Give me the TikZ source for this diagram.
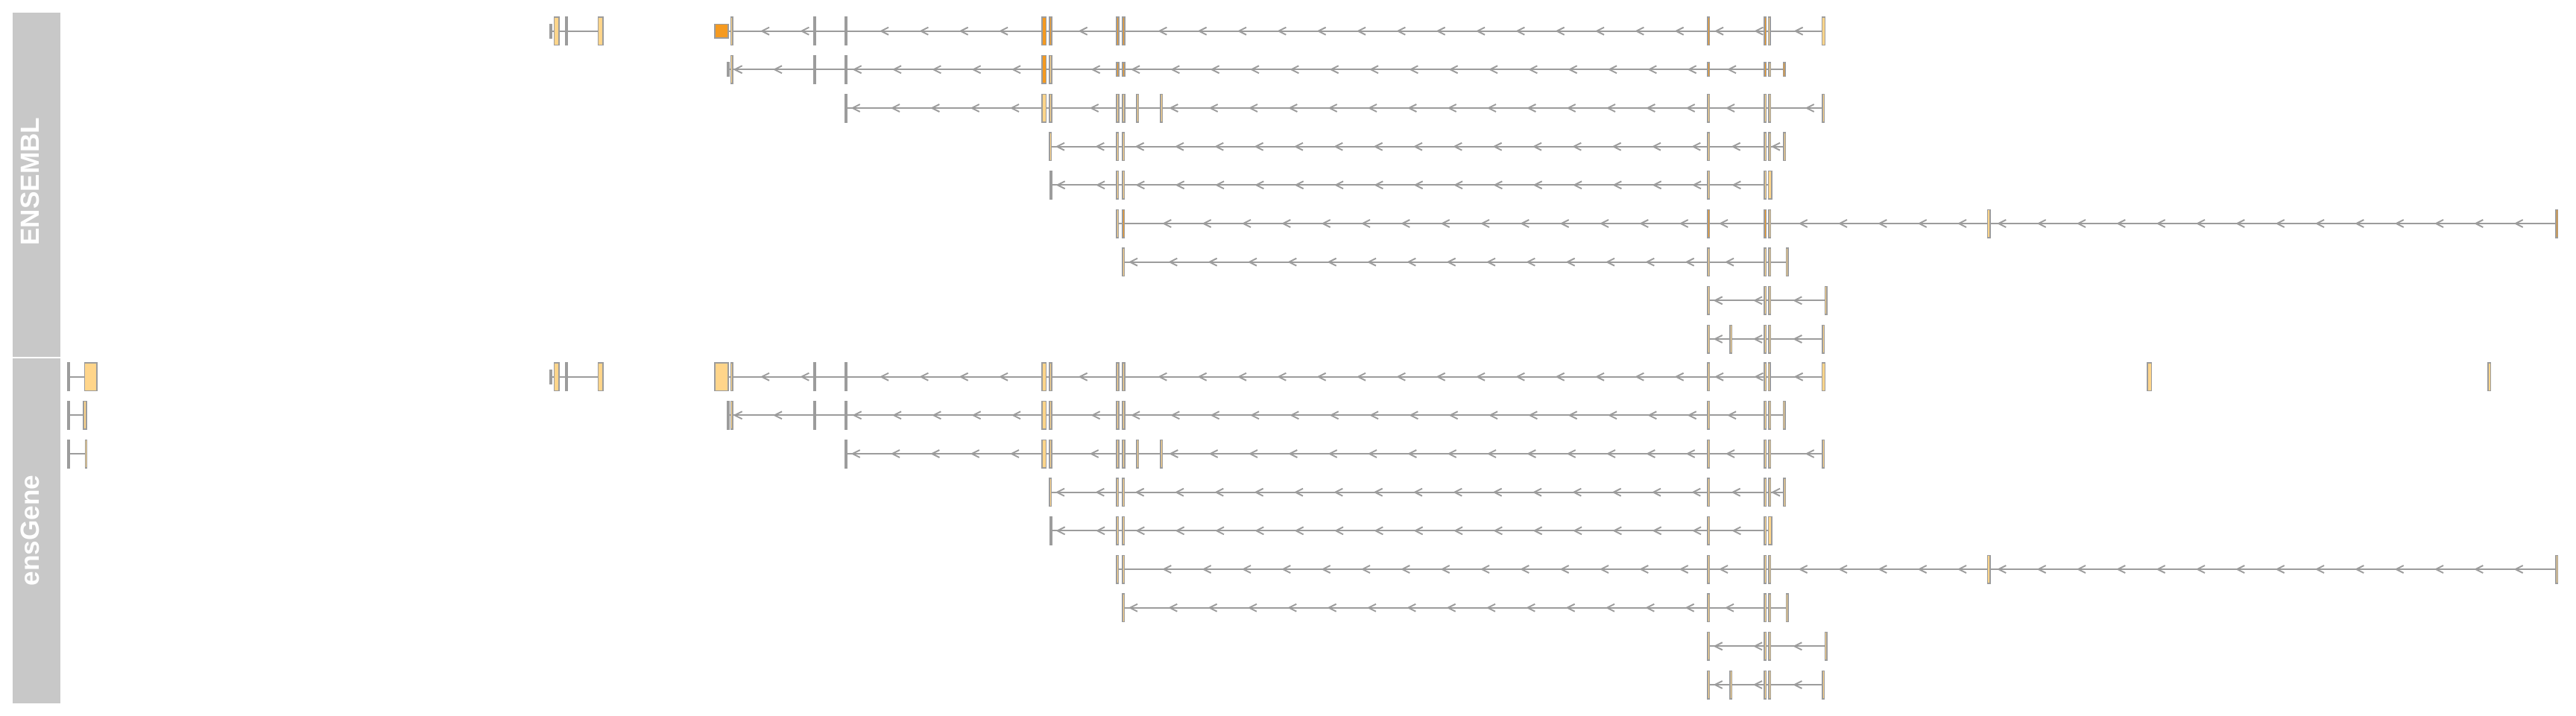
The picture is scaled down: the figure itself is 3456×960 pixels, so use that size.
\documentclass[tikz,border=0pt]{standalone}
\usepackage{fontspec}
\setmainfont{Liberation Sans}
\definecolor{exl}{HTML}{FFD58A}
\definecolor{exd}{HTML}{F59A20}
\definecolor{bgray}{HTML}{9C9C9C}
\definecolor{stripgray}{HTML}{C8C8C8}
\tikzset{
  intronline/.style={draw=bgray, line width=0.55pt, line join=round},
  exonbox/.style={draw=bgray, line width=0.43pt},
  stripbox/.style={fill=stripgray, draw=none},
  striplabel/.style={text=white, font=\fontsize{10}{12}\selectfont\bfseries, rotate=90, anchor=base, inner sep=0pt}
}
% exon: fill, y, x1, x2, half height
\newcommand\ex[5]{\filldraw[exonbox, fill=#1] ({#3+0.76},{#2-#5+0.76}) rectangle ({#4-0.76},{#2+#5-0.76});}
% backbone line: y, x1, x2
\newcommand\tline[3]{\draw[intronline] (#2,#1) -- (#3,#1);}
% intron arrows: y, a, b, phase
\newcommand\myintron[4]{%
  \pgfmathtruncatemacro\kA{ceil((#2+1.0-(#4))/53.333)}%
  \pgfmathtruncatemacro\kB{floor((#3-9.5-(#4))/53.333)}%
  \ifnum\kA>\kB\relax\else
    \foreach \k in {\kA,...,\kB}{\draw[intronline] ({#4+53.333*\k+10},{#1-5}) -- ({#4+53.333*\k},{#1}) -- ({#4+53.333*\k+10},{#1+5});}%
  \fi}
% left cluster
\newcommand\rowA[3]{%
  \tline{#1}{741}{801.7}
  \ex{exl}{#1}{737}{741}{#2}
  \ex{exl}{#1}{742.7}{750.7}{19.5}
  \ex{#3}{#1}{758}{762}{19.5}
  \ex{exl}{#1}{801.7}{810}{19.5}}
% row 1 main transcript: y, dark, square fill, square h
\newcommand\rowB[4]{%
  \tline{#1}{978}{2443.7}
  \myintron{#1}{983.7}{1091}{968.7}
  \myintron{#1}{1095}{1133}{968.7}
  \myintron{#1}{1137}{1397.3}{968.7}
  \myintron{#1}{1411.7}{1497.3}{968.7}
  \myintron{#1}{1509.7}{2290.3}{968.7}
  \myintron{#1}{2294.3}{2366}{968.7}
  \myintron{#1}{2375.7}{2443.7}{968.7}
  \ex{#3}{#1}{958}{978}{#4}
  \ex{exl}{#1}{979.5}{983.7}{19.5}
  \ex{#2}{#1}{1091}{1095}{19.5}
  \ex{#2}{#1}{1133}{1137}{19.5}
  \ex{#2}{#1}{1397.3}{1404.3}{19.5}
  \ex{#2}{#1}{1407.3}{1411.7}{19.5}
  \ex{#2}{#1}{1497.3}{1501.7}{19.5}
  \ex{#2}{#1}{1505.3}{1509.7}{19.5}
  \ex{#2}{#1}{2290.3}{2294.3}{19.5}
  \ex{#2}{#1}{2366}{2370}{19.5}
  \ex{exl}{#1}{2371.7}{2375.7}{19.5}
  \ex{exl}{#1}{2443.7}{2449}{19.5}}
% row 2: y, dark, half h, stub fill
\newcommand\rowC[4]{%
  \tline{#1}{979}{2391.7}
  \myintron{#1}{983.7}{1091}{985.7}
  \myintron{#1}{1095}{1133}{985.7}
  \myintron{#1}{1137}{1397.3}{985.7}
  \myintron{#1}{1411.7}{1497.3}{985.7}
  \myintron{#1}{1509.7}{2290}{985.7}
  \myintron{#1}{2294}{2366}{985.7}
  \myintron{#1}{2376}{2391.7}{985.7}
  \ex{#4}{#1}{975}{979}{#3}
  \ex{exl}{#1}{979.5}{983.7}{19.5}
  \ex{#2}{#1}{1091}{1095}{19.5}
  \ex{#2}{#1}{1133}{1137}{19.5}
  \ex{#2}{#1}{1397.3}{1404.3}{19.5}
  \ex{exl}{#1}{1407.3}{1411.7}{19.5}
  \ex{#2}{#1}{1497.3}{1501.7}{#3}
  \ex{#2}{#1}{1505.3}{1509.7}{#3}
  \ex{#2}{#1}{2290}{2294}{#3}
  \ex{#2}{#1}{2366}{2370}{#3}
  \ex{exl}{#1}{2372}{2376}{#3}
  \ex{#2}{#1}{2391.7}{2395.7}{#3}}
\newcommand\rowD[1]{%
  \tline{#1}{1137}{2444}
  \myintron{#1}{1137}{1397.3}{1143.7}
  \myintron{#1}{1411.7}{1497.3}{1143.7}
  \myintron{#1}{1509.7}{1524}{1143.7}
  \myintron{#1}{1528.3}{1556}{1143.7}
  \myintron{#1}{1560.3}{2290}{1143.7}
  \myintron{#1}{2294}{2366}{1143.7}
  \myintron{#1}{2376}{2444}{1143.7}
  \ex{exl}{#1}{1133}{1137}{19.5}
  \ex{exl}{#1}{1397.3}{1404.3}{19.5}
  \ex{exl}{#1}{1407.3}{1411.7}{19.5}
  \ex{exl}{#1}{1497.3}{1501.7}{19.5}
  \ex{exl}{#1}{1505.3}{1509.7}{19.5}
  \ex{exl}{#1}{1524}{1528.3}{19.5}
  \ex{exl}{#1}{1556}{1560.3}{19.5}
  \ex{exl}{#1}{2290}{2294}{19.5}
  \ex{exl}{#1}{2366}{2370}{19.5}
  \ex{exl}{#1}{2372}{2376}{19.5}
  \ex{exl}{#1}{2444}{2448}{19.5}}
\newcommand\rowE[1]{%
  \tline{#1}{1411.3}{2392.3}
  \myintron{#1}{1411.3}{1497.3}{1418}
  \myintron{#1}{1509.3}{2290}{1418}
  \myintron{#1}{2294}{2366}{1418}
  \myintron{#1}{2376}{2392.3}{1418}
  \ex{exl}{#1}{1407.3}{1411.3}{19.5}
  \ex{exl}{#1}{1497.3}{1501.3}{19.5}
  \ex{exl}{#1}{1505.3}{1509.3}{19.5}
  \ex{exl}{#1}{2290}{2294}{19.5}
  \ex{exl}{#1}{2366}{2370}{19.5}
  \ex{exl}{#1}{2372}{2376}{19.5}
  \ex{exl}{#1}{2392.3}{2396}{19.5}}
\newcommand\rowF[1]{%
  \tline{#1}{1412}{2371.7}
  \myintron{#1}{1412}{1497.3}{1418.7}
  \myintron{#1}{1509.3}{2290}{1418.7}
  \myintron{#1}{2294}{2366}{1418.7}
  \ex{exl}{#1}{1408}{1412}{19.5}
  \ex{exl}{#1}{1497.3}{1501.3}{19.5}
  \ex{exl}{#1}{1505.3}{1509.3}{19.5}
  \ex{exl}{#1}{2290}{2294}{19.5}
  \ex{exl}{#1}{2366}{2370}{19.5}
  \ex{exl}{#1}{2371.7}{2377.7}{19.5}}
\newcommand\rowG[2]{%
  \tline{#1}{1501.3}{3428}
  \myintron{#1}{1509.3}{2290}{1508}
  \myintron{#1}{2294}{2366}{1508}
  \myintron{#1}{2376}{2665.7}{1508}
  \myintron{#1}{2670.7}{3428}{1508}
  \ex{exl}{#1}{1497.3}{1501.3}{19.5}
  \ex{#2}{#1}{1505.3}{1509.3}{19.5}
  \ex{#2}{#1}{2290}{2294}{19.5}
  \ex{#2}{#1}{2366}{2370}{19.5}
  \ex{exl}{#1}{2372}{2376}{19.5}
  \ex{exl}{#1}{2665.7}{2670.7}{19.5}
  \ex{#2}{#1}{3428}{3432}{19.5}}
\newcommand\rowH[1]{%
  \tline{#1}{1509.3}{2395.7}
  \myintron{#1}{1509.3}{2290}{1516}
  \myintron{#1}{2294}{2366}{1516}
  \myintron{#1}{2376}{2395.7}{1516}
  \ex{exl}{#1}{1505.3}{1509.3}{19.5}
  \ex{exl}{#1}{2290}{2294}{19.5}
  \ex{exl}{#1}{2366}{2370}{19.5}
  \ex{exl}{#1}{2372}{2376}{19.5}
  \ex{exl}{#1}{2395.7}{2399.7}{19.5}}
\newcommand\rowI[1]{%
  \tline{#1}{2294}{2447.7}
  \myintron{#1}{2294}{2366}{2300.7}
  \myintron{#1}{2376}{2447.7}{2300.7}
  \ex{exl}{#1}{2290}{2294}{19.5}
  \ex{exl}{#1}{2366}{2370}{19.5}
  \ex{exl}{#1}{2372}{2376}{19.5}
  \ex{exl}{#1}{2447.7}{2451.7}{19.5}}
\newcommand\rowJ[1]{%
  \tline{#1}{2294}{2444}
  \myintron{#1}{2294}{2320.3}{2300.7}
  \myintron{#1}{2324.3}{2366}{2300.7}
  \myintron{#1}{2376}{2444}{2300.7}
  \ex{exl}{#1}{2290}{2294}{19.5}
  \ex{exl}{#1}{2320.3}{2324.3}{19.5}
  \ex{exl}{#1}{2366}{2370}{19.5}
  \ex{exl}{#1}{2372}{2376}{19.5}
  \ex{exl}{#1}{2444}{2448}{19.5}}
\newcommand\rowL[3]{% y, x1 of second exon, x2
  \tline{#1}{93.7}{#2}
  \ex{exl}{#1}{90.3}{93.7}{19.5}
  \ex{exl}{#1}{#2}{#3}{19.5}}
\begin{document}
\begin{tikzpicture}[x=0.01cm, y=-0.01cm]
\path[use as bounding box] (0,0) rectangle (3456,960);
% title strips
\fill[stripbox] (17,17) rectangle (81,479);
\fill[stripbox] (17,481) rectangle (81,943.5);
\node[striplabel] (lblA) at (52,243.5) {ENSEMBL};
\node[striplabel] (lblB) at (52,712) {ensGene};
% ENSEMBL track
\rowA{41.7}{10}{exd}
\rowB{41.7}{exd}{exd}{10}
\rowC{93.3}{exd}{10}{bgray}
\rowD{145}
\rowE{196.7}
\rowF{248.3}
\rowG{300}{exd}
\rowH{351.7}
\rowI{403.3}
\rowJ{455}
% ensGene track
\rowL{505.7}{112.7}{131}
\rowA{505.7}{10}{exl}
\rowB{505.7}{exl}{exl}{19.5}
\ex{exl}{505.7}{2880}{2887}{19.5}
\ex{exl}{505.7}{3337}{3342}{19.5}
\rowL{557.3}{111}{116.7}
\rowC{557.3}{exl}{19.5}{exl}
\rowL{609}{113.7}{117.3}
\rowD{609}
\rowE{660.7}
\rowF{712.3}
\rowG{764}{exl}
\rowH{815.7}
\rowI{867.3}
\rowJ{919}
\end{tikzpicture}
\end{document}
